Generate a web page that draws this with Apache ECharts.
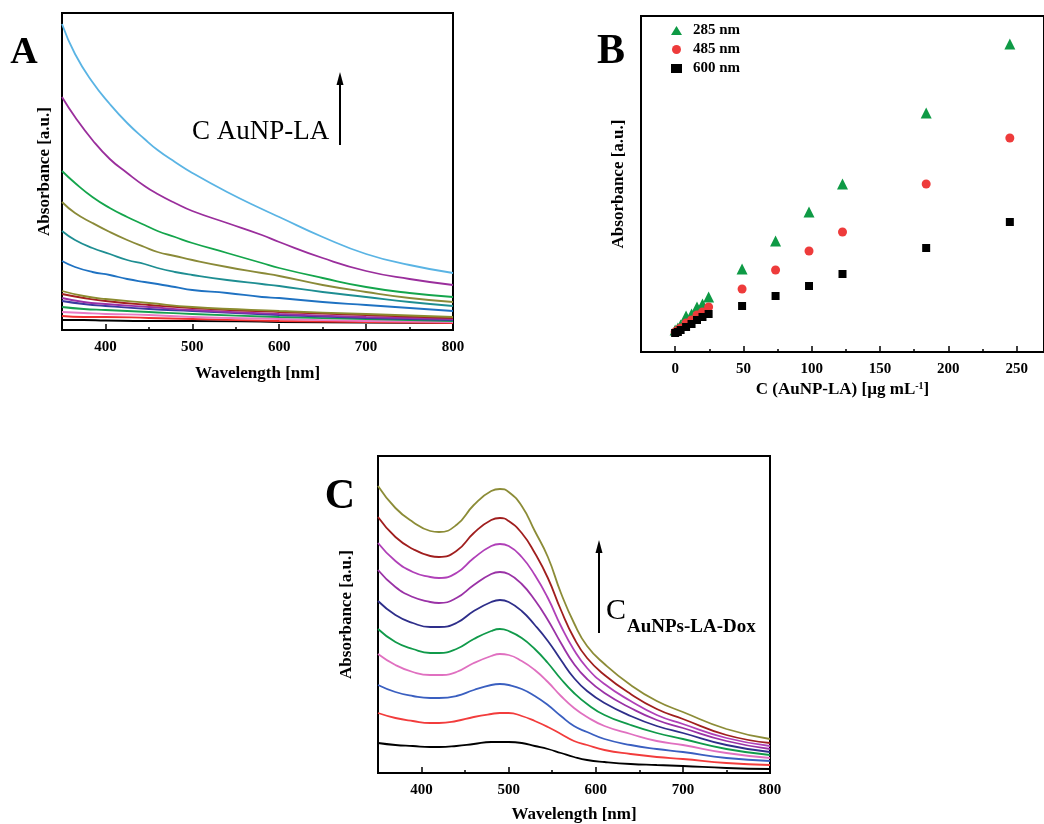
<!DOCTYPE html>
<html><head><meta charset="utf-8">
<script src="https://cdn.jsdelivr.net/npm/echarts/dist/echarts.min.js"></script>
</head>
<body style="margin:0;background:#fff">
<div id="c" style="width:1044px;height:824px"></div>
<script>
// ---------- Panel A : UV-vis of AuNP-LA ----------
const aWl = [350,365,385,405,425,445,460,480,500,540,580,600,650,700,750,800];
const aLightBlue = [3.06,2.76,2.48,2.26,2.07,1.91,1.80,1.68,1.57,1.38,1.21,1.13,0.93,0.76,0.65,0.57];
const aPurple    = [2.33,2.13,1.90,1.71,1.57,1.44,1.36,1.27,1.19,1.07,0.95,0.88,0.72,0.59,0.51,0.45];
const aGreen     = [1.59,1.47,1.33,1.22,1.13,1.05,0.99,0.93,0.87,0.77,0.67,0.62,0.52,0.43,0.37,0.33];
const aOlive     = [1.28,1.17,1.07,0.98,0.90,0.83,0.78,0.74,0.70,0.63,0.57,0.54,0.45,0.38,0.32,0.28];
const aTeal      = [0.99,0.90,0.82,0.76,0.70,0.66,0.62,0.58,0.55,0.50,0.46,0.44,0.38,0.33,0.28,0.24];
const aBlue      = [0.69,0.63,0.58,0.55,0.51,0.48,0.46,0.43,0.40,0.37,0.33,0.32,0.28,0.25,0.22,0.19];
const aWlLow = [350,375,400,450,500,600,700,800];
const aOlive2  = [0.39,0.34,0.31,0.27,0.23,0.19,0.16,0.13];
const aDarkRed = [0.36,0.32,0.29,0.25,0.22,0.18,0.15,0.12];
const aPurple2 = [0.32,0.28,0.26,0.23,0.20,0.16,0.13,0.11];
const aNavy2   = [0.29,0.26,0.24,0.21,0.19,0.15,0.12,0.10];
const aGreen2  = [0.23,0.21,0.20,0.18,0.16,0.13,0.11,0.09];
const aPink    = [0.18,0.17,0.16,0.15,0.13,0.11,0.09,0.08];
const aRed     = [0.14,0.13,0.13,0.12,0.11,0.09,0.08,0.07];
const aBlack   = [0.10,0.10,0.095,0.09,0.09,0.08,0.075,0.07];

// ---------- Panel B : absorbance vs concentration ----------
const bConc = [0,2,4,8,12,16,20,24.5,49,73.5,98,122.5,183.75,245];
const b285 = [0.22,0.24,0.27,0.36,0.38,0.45,0.48,0.55,0.83,1.11,1.40,1.68,2.39,3.08];
const b485 = [0.20,0.22,0.24,0.29,0.32,0.37,0.40,0.45,0.63,0.82,1.01,1.20,1.68,2.14];
const b600 = [0.19,0.20,0.22,0.25,0.28,0.32,0.35,0.38,0.46,0.56,0.66,0.78,1.04,1.30];

// ---------- Panel C : UV-vis of AuNPs-LA-Dox ----------
const cWl = [350,370,390,410,420,440,460,480,490,500,515,530,545,560,575,590,610,640,670,700,750,800];
const cOlive   = [2.87,2.65,2.51,2.42,2.41,2.48,2.68,2.82,2.84,2.81,2.67,2.42,2.16,1.80,1.50,1.27,1.09,0.88,0.72,0.61,0.44,0.34];
const cDarkRed = [2.56,2.36,2.24,2.17,2.16,2.22,2.40,2.53,2.55,2.52,2.40,2.20,1.95,1.63,1.35,1.15,0.98,0.79,0.64,0.54,0.38,0.30];
const cViolet  = [2.30,2.12,2.01,1.96,1.95,2.00,2.15,2.27,2.29,2.27,2.16,1.98,1.75,1.47,1.23,1.05,0.89,0.72,0.58,0.49,0.35,0.27];
const cPurple  = [2.03,1.86,1.76,1.71,1.70,1.75,1.88,1.99,2.01,1.99,1.89,1.73,1.53,1.30,1.09,0.94,0.80,0.65,0.53,0.45,0.32,0.24];
const cNavy    = [1.72,1.58,1.50,1.46,1.46,1.50,1.62,1.71,1.73,1.71,1.62,1.48,1.32,1.13,0.95,0.82,0.70,0.57,0.47,0.40,0.28,0.21];
const cGreen   = [1.44,1.31,1.24,1.20,1.20,1.24,1.34,1.42,1.44,1.42,1.35,1.24,1.10,0.94,0.80,0.69,0.58,0.48,0.40,0.34,0.24,0.18];
const cPink    = [1.19,1.08,1.01,0.98,0.98,1.01,1.10,1.17,1.19,1.18,1.12,1.03,0.91,0.77,0.65,0.56,0.47,0.39,0.32,0.28,0.20,0.15];
const cBlue    = [0.88,0.81,0.77,0.75,0.75,0.77,0.83,0.88,0.89,0.88,0.84,0.77,0.68,0.57,0.47,0.41,0.34,0.28,0.24,0.21,0.15,0.12];
const cRed     = [0.60,0.55,0.52,0.50,0.50,0.52,0.56,0.59,0.60,0.60,0.57,0.52,0.46,0.39,0.32,0.28,0.23,0.19,0.16,0.14,0.10,0.08];
const cBlack   = [0.30,0.28,0.27,0.26,0.26,0.27,0.29,0.31,0.31,0.31,0.30,0.27,0.24,0.20,0.16,0.13,0.11,0.09,0.08,0.07,0.05,0.04];

const F = '"Liberation Serif", "Times New Roman", serif';
const pairs = (xs, ys) => xs.map((x, i) => [x, ys[i]]);

function lineSeries(xi, xs, ys, color) {
  return { type: 'line', xAxisIndex: xi, yAxisIndex: xi / 2, data: pairs(xs, ys),
    showSymbol: false, smooth: 0.5, silent: true,
    lineStyle: { color: color, width: 1.8 }, itemStyle: { color: color } };
}

function mainX(g, min, max, split, name, gap, showMax) {
  return { gridIndex: g, type: 'value', min: min, max: max, splitNumber: split, position: 'bottom',
    axisLine: { onZero: false, lineStyle: { color: '#000', width: 2 } },
    axisTick: { inside: true, length: 6, lineStyle: { color: '#000', width: 1.5 } },
    axisLabel: { showMinLabel: false, showMaxLabel: showMax, color: '#000', fontFamily: F, fontWeight: 'bold', fontSize: 15, margin: 10 },
    splitLine: { show: false },
    name: name, nameLocation: 'middle', nameGap: gap,
    nameTextStyle: { color: '#000', fontFamily: F, fontWeight: 'bold', fontSize: 17,
      rich: { sup: { fontFamily: F, fontWeight: 'bold', fontSize: 10, verticalAlign: 'top', padding: [0, 0, 8, 0], color: '#000' } } } };
}
function minorX(g, min, max, interval) {
  return { gridIndex: g, type: 'value', min: min, max: max, interval: interval, position: 'bottom',
    axisLine: { show: false, onZero: false },
    axisTick: { show: true, inside: true, length: 3, lineStyle: { color: '#000', width: 1.5 } },
    axisLabel: { show: false }, splitLine: { show: false } };
}
function yAx(g, max, gap) {
  return { gridIndex: g, type: 'value', min: 0, max: max,
    axisLine: { show: true, onZero: false, lineStyle: { color: '#000', width: 2 } },
    axisTick: { show: false }, axisLabel: { show: false }, splitLine: { show: false },
    name: 'Absorbance [a.u.]', nameLocation: 'middle', nameGap: gap,
    nameTextStyle: { color: '#000', fontFamily: F, fontWeight: 'bold', fontSize: 17 } };
}

const gridStyle = { show: true, borderColor: '#000', borderWidth: 2, backgroundColor: 'transparent' };

const option = {
  animation: false,
  backgroundColor: '#fff',
  grid: [
    Object.assign({ left: 62, top: 13, width: 391, height: 317 }, gridStyle),
    Object.assign({ left: 641, top: 16, width: 407, height: 336 }, gridStyle),
    Object.assign({ left: 378, top: 456, width: 392, height: 317 }, gridStyle)
  ],
  xAxis: [
    mainX(0, 350, 800, 5, 'Wavelength [nm]', 35, true),
    minorX(0, 350, 800, 50),
    mainX(1, -25, 270, 6, 'C (AuNP-LA) [µg mL{sup|-1}]', 29, false),
    minorX(1, -25, 270, 25),
    mainX(2, 350, 800, 5, 'Wavelength [nm]', 33, true),
    minorX(2, 350, 800, 50)
  ],
  yAxis: [ yAx(0, 3.17, 9), yAx(1, 3.36, 14), yAx(2, 3.17, 23) ],
  legend: {
    orient: 'vertical', left: 666, top: 18, itemGap: 4, itemWidth: 11, itemHeight: 9,
    data: ['285 nm', '485 nm', '600 nm'],
    textStyle: { color: '#000', fontFamily: F, fontWeight: 'bold', fontSize: 15, padding: [0, 0, 0, 6] }
  },
  series: [
    lineSeries(0, aWlLow, aBlack, '#000000'),
    lineSeries(0, aWlLow, aRed, '#F03030'),
    lineSeries(0, aWlLow, aPink, '#E87AC4'),
    lineSeries(0, aWlLow, aGreen2, '#17A050'),
    lineSeries(0, aWlLow, aNavy2, '#3A3AA0'),
    lineSeries(0, aWlLow, aPurple2, '#9A30A6'),
    lineSeries(0, aWlLow, aDarkRed, '#A32020'),
    lineSeries(0, aWlLow, aOlive2, '#8C8C30'),
    lineSeries(0, aWl, aBlue, '#1F72C2'),
    lineSeries(0, aWl, aTeal, '#1E8E92'),
    lineSeries(0, aWl, aOlive, '#8A8A38'),
    lineSeries(0, aWl, aGreen, '#14A54C'),
    lineSeries(0, aWl, aPurple, '#9A2E9C'),
    lineSeries(0, aWl, aLightBlue, '#5AB4E4'),

    { type: 'scatter', name: '285 nm', xAxisIndex: 2, yAxisIndex: 1, data: pairs(bConc, b285),
      symbol: 'triangle', symbolSize: 11, itemStyle: { color: '#0E9A45', opacity: 1 } },
    { type: 'scatter', name: '485 nm', xAxisIndex: 2, yAxisIndex: 1, data: pairs(bConc, b485),
      symbol: 'circle', symbolSize: 9, itemStyle: { color: '#EE3B3B', opacity: 1 } },
    { type: 'scatter', name: '600 nm', xAxisIndex: 2, yAxisIndex: 1, data: pairs(bConc, b600),
      symbol: 'rect', symbolSize: 8, itemStyle: { color: '#000000', opacity: 1 } },

    lineSeries(4, cWl, cBlack, '#000000'),
    lineSeries(4, cWl, cRed, '#F23C3C'),
    lineSeries(4, cWl, cBlue, '#3A5FC0'),
    lineSeries(4, cWl, cPink, '#E070C0'),
    lineSeries(4, cWl, cGreen, '#109A4A'),
    lineSeries(4, cWl, cNavy, '#2E2E8A'),
    lineSeries(4, cWl, cPurple, '#9A32A6'),
    lineSeries(4, cWl, cViolet, '#B040B8'),
    lineSeries(4, cWl, cDarkRed, '#A01E1E'),
    lineSeries(4, cWl, cOlive, '#8C8C37')
  ],
  graphic: [
    { type: 'text', x: 24, y: 53, style: { text: 'A', font: 'bold 38px ' + F, fill: '#000', align: 'center', verticalAlign: 'middle' } },
    { type: 'text', x: 611, y: 52, style: { text: 'B', font: 'bold 42px ' + F, fill: '#000', align: 'center', verticalAlign: 'middle' } },
    { type: 'text', x: 340, y: 497, style: { text: 'C', font: 'bold 42px ' + F, fill: '#000', align: 'center', verticalAlign: 'middle' } },
    { type: 'text', x: 192, y: 132, style: { text: 'C AuNP-LA', font: '27px ' + F, fill: '#000', align: 'left', verticalAlign: 'middle' } },
    { type: 'line', shape: { x1: 340, y1: 145, x2: 340, y2: 82 }, style: { stroke: '#000', lineWidth: 2 } },
    { type: 'polygon', shape: { points: [[340, 72], [336.5, 85], [343.5, 85]] }, style: { fill: '#000' } },
    { type: 'line', shape: { x1: 599, y1: 633, x2: 599, y2: 550 }, style: { stroke: '#000', lineWidth: 2 } },
    { type: 'polygon', shape: { points: [[599, 540], [595.5, 553], [602.5, 553]] }, style: { fill: '#000' } },
    { type: 'text', x: 606, y: 611, style: { text: 'C', font: '30px ' + F, fill: '#000', align: 'left', verticalAlign: 'middle' } },
    { type: 'text', x: 627, y: 627, style: { text: 'AuNPs-LA-Dox', font: 'bold 19px ' + F, fill: '#000', align: 'left', verticalAlign: 'middle' } }
  ]
};

const chart = echarts.init(document.getElementById('c'), null, { renderer: 'canvas' });
chart.setOption(option);
</script>
</body></html>
